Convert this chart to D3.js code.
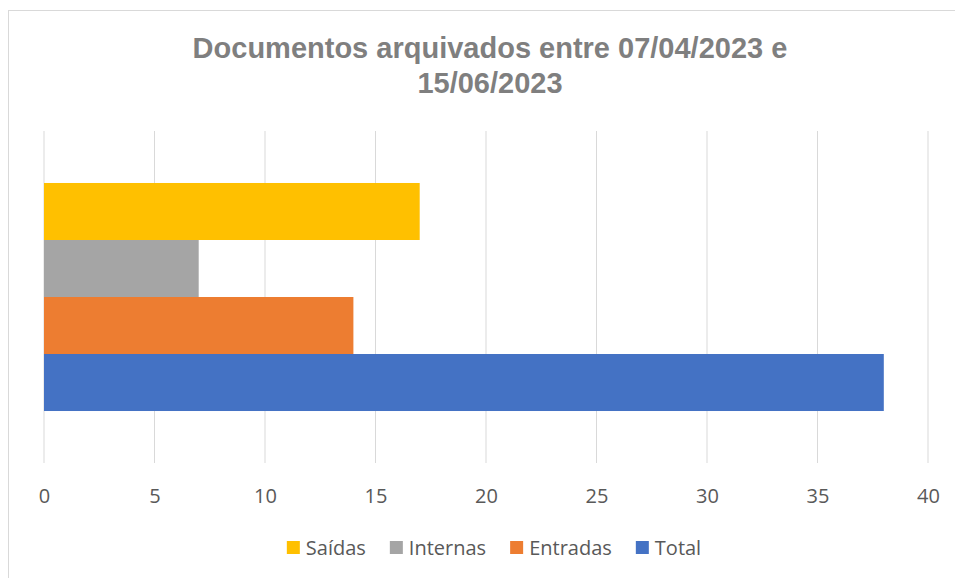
<!DOCTYPE html>
<html>
<head>
<meta charset="utf-8">
<script src="https://cdn.jsdelivr.net/npm/d3@7"></script>
<style>
  body { margin: 0; background: #fff; }
</style>
</head>
<body>
<div id="container"></div>
<script>
// data
const categories = ["Total", "Entradas", "Internas", "Saídas"];
const values = [38, 14, 7, 17];
const colors = ["#4472C4", "#ED7D31", "#A5A5A5", "#FFC000"];
const legendOrder = ["Saídas", "Internas", "Entradas", "Total"];
const xTicks = [0, 5, 10, 15, 20, 25, 30, 35, 40];
const titleLines = ["Documentos arquivados entre 07/04/2023 e", "15/06/2023"];

const width = 955, height = 578;
const plot = { left: 44, right: 928, top: 131, bottom: 463 };

const svg = d3.select("#container")
  .append("svg")
  .attr("width", width)
  .attr("height", height);

// chart frame
svg.append("rect")
  .attr("x", 8.5).attr("y", 10.5)
  .attr("width", 980).attr("height", 620)
  .attr("fill", "none")
  .attr("stroke", "#d9d9d9");

svg.append("text")
  .attr("text-anchor", "middle")
  .attr("font-family", "Liberation Sans, Arial, sans-serif")
  .attr("font-weight", "bold")
  .attr("font-size", 29)
  .attr("fill", "#7f7f7f")
  .selectAll("tspan")
  .data(titleLines)
  .join("tspan")
  .attr("x", 490)
  .attr("y", (d, i) => 58 + i * 35)
  .text(d => d);

const x = d3.scaleLinear().domain([0, 40]).range([plot.left, plot.right]);
const y = d3.scaleBand()
  .domain(categories)
  .range([plot.bottom, plot.top])
  .paddingInner(0)
  .paddingOuter(0.912);

// gridlines
svg.append("g")
  .selectAll("line")
  .data(xTicks)
  .join("line")
  .attr("x1", d => x(d)).attr("x2", d => x(d))
  .attr("y1", plot.top).attr("y2", plot.bottom)
  .attr("stroke", "#d9d9d9")
  .attr("stroke-width", 1);

// bars
svg.append("g")
  .selectAll("rect")
  .data(categories)
  .join("rect")
  .attr("x", x(0))
  .attr("y", d => y(d))
  .attr("width", (d, i) => x(values[i]) - x(0))
  .attr("height", y.bandwidth())
  .attr("fill", (d, i) => colors[i]);

// x axis labels
const axis = svg.append("g")
  .attr("transform", `translate(0,${plot.bottom})`)
  .call(d3.axisBottom(x).tickValues(xTicks).tickSize(0).tickPadding(0));
axis.select(".domain").remove();
axis.selectAll("text")
  .attr("dy", null)
  .attr("y", 40)
  .attr("font-family", "Open Sans, sans-serif")
  .attr("font-size", 20)
  .attr("fill", "#595959");

// legend
const legend = svg.append("g").attr("font-family", "Open Sans, sans-serif").attr("font-size", 20);
const items = legend.selectAll("g")
  .data(legendOrder)
  .join("g");
items.append("rect")
  .attr("width", 13).attr("height", 13)
  .attr("y", -14)
  .attr("fill", d => colors[categories.indexOf(d)]);
items.append("text")
  .attr("x", 19)
  .attr("y", 0)
  .attr("fill", "#595959")
  .text(d => d);
const gap = 24;
const widths = [];
items.each(function () {
  widths.push(this.getBBox().width);
});
const total = d3.sum(widths) + gap * (widths.length - 1);
let start = 494 - total / 2;
items.attr("transform", (d, i) => {
  const tx = start;
  start += widths[i] + gap;
  return `translate(${tx},555)`;
});
</script>
</body>
</html>
